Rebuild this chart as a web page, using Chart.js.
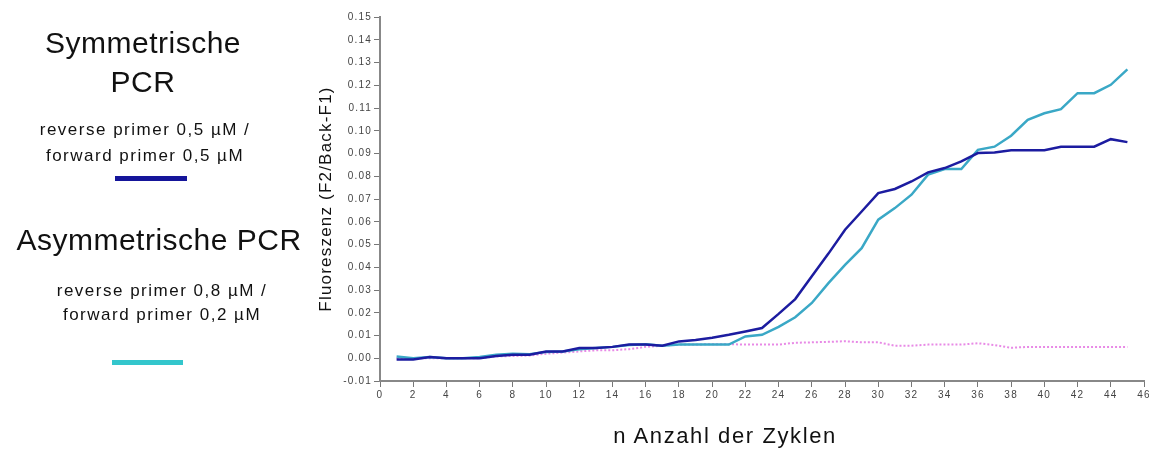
<!DOCTYPE html>
<html lang="de">
  <head>
    <meta charset="utf-8" />
    <title>Symmetrische / Asymmetrische PCR</title>
    <script src="https://cdn.jsdelivr.net/npm/chart.js"></script>
    <style>
      body {
        margin: 0;
        background: #fff;
        font-family: "Liberation Sans", Arial, sans-serif;
        color: #111;
      }
      .wrap {
        position: relative;
        width: 1149px;
        height: 450px;
        overflow: hidden;
      }
      canvas {
        position: absolute;
        left: 0;
        top: 0;
      }
      .txt {
        position: absolute;
        text-align: center;
        white-space: nowrap;
      }
      .big {
        font-size: 30px;
        letter-spacing: 0.5px;
      }
      .small {
        font-size: 17px;
        letter-spacing: 1.5px;
      }
      .swatch {
        position: absolute;
        height: 5px;
      }
    </style>
  </head>
  <body>
    <div class="wrap">
      <canvas id="pcrChart" width="1149" height="450"></canvas>

      <div class="txt big" style="left: 0; width: 286px; top: 23px; line-height: 39px">
        Symmetrische<br />PCR
      </div>
      <div class="txt small" style="left: 0; width: 290px; top: 117px; line-height: 26px">
        reverse primer 0,5 µM /<br />forward primer 0,5 µM
      </div>
      <div class="swatch" style="left: 115px; top: 176px; width: 72px; background: #15159a"></div>

      <div class="txt big" style="left: 0; width: 318px; top: 225px; line-height: 30px">
        Asymmetrische PCR
      </div>
      <div class="txt small" style="left: 0; width: 324px; top: 279px; line-height: 24px">
        reverse primer 0,8 µM /<br />forward primer 0,2 µM
      </div>
      <div class="swatch" style="left: 112px; top: 360px; width: 71px; background: #33c6cc"></div>

      <div class="txt" style="left: 525px; width: 400px; top: 425px; font-size: 22px; line-height: 22px; letter-spacing: 1.6px">
        n Anzahl der Zyklen
      </div>
    </div>
    <script>
      // Zyklen 1..45
      const cycles = [
        1, 2, 3, 4, 5, 6, 7, 8, 9, 10, 11, 12, 13, 14, 15, 16, 17, 18, 19, 20,
        21, 22, 23, 24, 25, 26, 27, 28, 29, 30, 31, 32, 33, 34, 35, 36, 37, 38,
        39, 40, 41, 42, 43, 44, 45,
      ];

      // symmetrische PCR (dunkelblau)
      const symmetric = [
        -0.0005, -0.0005, 0.0005, 0.0, 0.0, 0.0, 0.001, 0.0015, 0.0015, 0.003,
        0.003, 0.0045, 0.0045, 0.005, 0.006, 0.006, 0.0055, 0.0074, 0.008,
        0.009, 0.0103, 0.0118, 0.0133, 0.0195, 0.026, 0.036, 0.046, 0.0565,
        0.0645, 0.0726, 0.0744, 0.0777, 0.0817, 0.0836, 0.0865, 0.0902, 0.0904,
        0.0914, 0.0914, 0.0914, 0.093, 0.093, 0.093, 0.0963, 0.095,
      ];

      // asymmetrische PCR (türkis)
      const asymmetric = [
        0.0008, 0.0, 0.0005, 0.0, 0.0, 0.0005, 0.0015, 0.002, 0.0018, 0.0028,
        0.003, 0.004, 0.0045, 0.005, 0.0058, 0.0062, 0.0055, 0.006, 0.006,
        0.006, 0.006, 0.0096, 0.0103, 0.0138, 0.018, 0.0243, 0.033, 0.041,
        0.0484, 0.0609, 0.066, 0.0719, 0.0807, 0.0832, 0.0832, 0.0916, 0.093,
        0.0978, 0.1048, 0.1077, 0.1095, 0.1165, 0.1165, 0.1202, 0.127,
      ];

      // Negativkontrolle (rosa, gepunktet)
      const control = [
        0.0, 0.0, 0.0, 0.0, 0.0, 0.0, 0.0008, 0.001, 0.0012, 0.002, 0.0025,
        0.003, 0.0035, 0.0035, 0.004, 0.005, 0.0055, 0.006, 0.006, 0.0062,
        0.0062, 0.006, 0.006, 0.006, 0.0068, 0.007, 0.0072, 0.0075, 0.007,
        0.007, 0.0055, 0.0055, 0.006, 0.006, 0.006, 0.0066, 0.0058, 0.0046,
        0.005, 0.005, 0.005, 0.005, 0.005, 0.005, 0.005,
      ];

      const xMin = 0, xMax = 46, xStep = 2;
      const yMin = -0.01, yMax = 0.15, yStep = 0.01;

      // gesperrte Schrift wie im Original
      const spacingPlugin = {
        id: "spacing",
        beforeLayout: (chart) => { chart.ctx.letterSpacing = "1.2px"; },
        beforeDraw: (chart) => { chart.ctx.letterSpacing = "1.2px"; },
      };

      const axisGrid = {
        drawOnChartArea: false,
        drawTicks: true,
        tickLength: 6,
        tickColor: "#777",
        tickWidth: 1,
      };
      const axisBorder = { display: true, color: "#888", width: 2 };

      new Chart(document.getElementById("pcrChart"), {
        type: "line",
        plugins: [spacingPlugin],
        data: {
          labels: cycles,
          datasets: [
            {
              label: "Symmetrische PCR",
              data: symmetric,
              borderColor: "#1c1ca0",
              borderWidth: 2.5,
              pointRadius: 0,
              tension: 0,
              order: 0,
            },
            {
              label: "Asymmetrische PCR",
              data: asymmetric,
              borderColor: "#3aa8c6",
              borderWidth: 2.5,
              pointRadius: 0,
              tension: 0,
              order: 1,
            },
            {
              label: "Kontrolle",
              data: control,
              borderColor: "#e88ae6",
              borderWidth: 2,
              borderDash: [2, 2],
              pointRadius: 0,
              tension: 0,
              order: 2,
            },
          ],
        },
        options: {
          responsive: false,
          animation: false,
          layout: { padding: { left: 300, top: 17, right: 5, bottom: 0 } },
          plugins: { legend: { display: false }, tooltip: { enabled: false } },
          scales: {
            x: {
              type: "linear",
              min: xMin,
              max: xMax,
              grid: axisGrid,
              border: axisBorder,
              ticks: {
                stepSize: xStep,
                padding: 2,
                maxRotation: 0,
                autoSkip: false,
                color: "#444",
                font: { family: "'Liberation Sans', Arial", size: 10 },
              },
              afterFit: (s) => {
                s.height = 69;
                s.paddingRight = 0;
              },
            },
            y: {
              min: yMin,
              max: yMax,
              grid: axisGrid,
              border: axisBorder,
              ticks: {
                stepSize: yStep,
                padding: 2,
                color: "#444",
                font: { family: "'Liberation Sans', Arial", size: 10 },
                callback: (v) => v.toFixed(2),
              },
              title: {
                display: true,
                text: "Fluoreszenz (F2/Back-F1)",
                color: "#111",
                font: { family: "'Liberation Sans', Arial", size: 17 },
                padding: { top: 16, bottom: 0 },
              },
              afterFit: (s) => { s.width = 80; },
            },
          },
        },
      });
    </script>
  </body>
</html>
